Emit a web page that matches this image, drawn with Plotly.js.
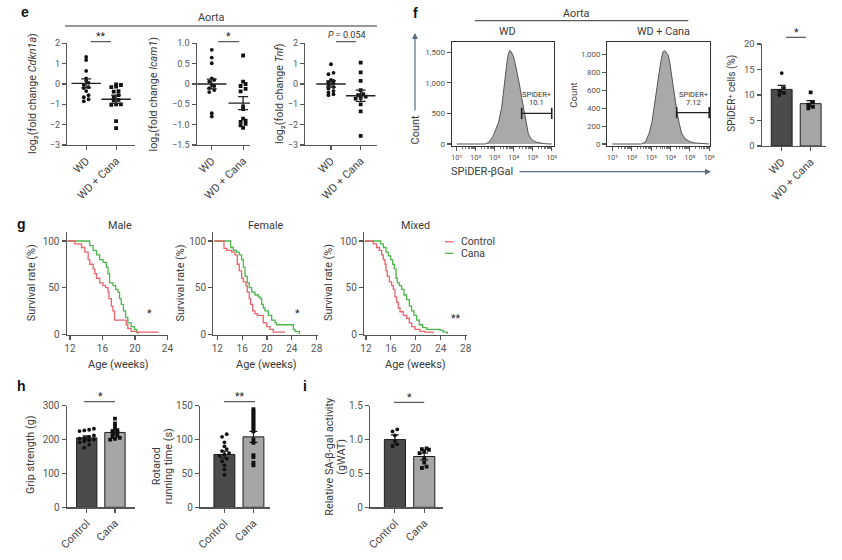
<!DOCTYPE html>
<html><head><meta charset="utf-8">
<script src="https://cdn.plot.ly/plotly-3.0.1.min.js"></script>
<style>html,body{margin:0;padding:0;background:#fff;} #chart{width:842px;height:560px;}</style>
</head><body><div id="chart"></div>
<script>
// ================= DATA =================
// Panel e (log2 fold change, aorta)
const groupsE = ['WD', 'WD + Cana'];
const cdkn1aWD   = [1.33, 1.18, 0.64, 0.28, 0.16, 0.05, -0.05, -0.15, -0.2, -0.35, -0.55, -0.65, -0.75, -0.85];
const cdkn1aCana = [-0.02, -0.05, -0.13, -0.15, -0.35, -0.38, -0.55, -0.65, -0.78, -0.8, -1.0, -1.0, -1.02, -1.83, -2.17];
const cdkn1aMean = [0.03, -0.75];
const cdkn1aSem  = [0.22, 0.2];
const icam1WD    = [0.84, 0.65, 0.51, 0.14, 0.1, 0.06, -0.02, -0.05, -0.1, -0.15, -0.2, -0.72, -0.8];
const icam1Cana  = [0.7, 0.06, 0.0, -0.05, -0.12, -0.18, -0.55, -0.62, -0.85, -0.9, -0.93, -0.98, -1.02, -1.08];
const icam1Mean  = [0.0, -0.47];
const icam1Sem   = [0.12, 0.16];
const tnfWD      = [0.97, 0.55, 0.48, 0.2, 0.15, 0.08, 0.02, -0.05, -0.15, -0.22, -0.35, -0.42, -0.5, -0.55];
const tnfCana    = [1.05, 0.57, 0.15, -0.3, -0.5, -0.55, -0.62, -0.68, -0.72, -1.0, -1.35, -2.55];
const tnfMean    = [0.0, -0.58];
const tnfSem     = [0.15, 0.28];

// Panel f (flow histograms)
const histWDX   = [10, 316, 501, 794, 1122, 1585, 2344, 3467, 4467, 5248, 6310, 7244, 8318, 9550, 11749, 14454, 19953, 26303, 39811, 58884, 79433, 107152, 158489, 239883, 398107, 1000000];
const histWDY   = [0, 0, 30, 120, 230, 350, 600, 1090, 1350, 1470, 1530, 1510, 1480, 1440, 1330, 1200, 980, 760, 435, 165, 90, 55, 30, 15, 5, 0];
const histCanaX = [10, 316, 501, 794, 1122, 1585, 2239, 2884, 3631, 4169, 4786, 5495, 6607, 7762, 9333, 11482, 15849, 20893, 28184, 38019, 56234, 100000, 177828, 316228, 1000000];
const histCanaY = [0, 0, 20, 120, 250, 490, 720, 862, 980, 1030, 1040, 1035, 1010, 990, 900, 750, 560, 379, 230, 119, 60, 26, 12, 6, 0];
const gateWD    = {from: 26303, to: 1000000, level: 500, label: 'SPiDER+', pct: '10.1'};
const gateCana  = {from: 20893, to: 1000000, level: 350, label: 'SPiDER+', pct: '7.12'};
const logTicks  = [10, 100, 1000, 10000, 100000, 1000000];
const logText   = ['10\u00b9', '10\u00b2', '10\u00b3', '10\u2074', '10\u2075', '10\u2076'];
const spiderMean = [11.1, 8.3];
const spiderSem  = [0.8, 0.6];
const spiderWD   = [14.3, 11.4, 10.8, 10.4, 10.0];
const spiderCana = [10.5, 8.6, 8.1, 7.7, 7.4];

// Panel g (survival, %)
const maleCtrlWk  = [11.7, 12.2, 12.6, 13.42, 13.83, 14.24, 14.44, 14.85, 15.05, 15.26, 15.66, 16.07, 16.4, 16.68, 16.8, 17.09, 17.29, 17.49, 18.92, 19.12, 19.53, 20.14, 22.9];
const maleCtrlS   = [100, 100, 97, 93, 88, 80, 75, 70, 65, 60, 55, 52, 50, 45, 38, 30, 25, 15, 10, 6, 3, 2, 2];
const maleCanaWk  = [11.7, 14.03, 14.44, 14.85, 15.26, 15.66, 16.07, 16.48, 16.68, 16.88, 17.29, 17.62, 17.9, 18.1, 18.31, 18.59, 18.84, 19.12, 19.53, 19.94, 20.22, 20.34];
const maleCanaS   = [100, 100, 95, 90, 85, 80, 77, 72, 65, 55, 52, 48, 45, 38, 32, 25, 18, 12, 8, 5, 2, 0];
const femCtrlWk   = [11.5, 12.86, 13.08, 13.51, 14.31, 14.85, 15.22, 15.54, 15.92, 16.19, 16.62, 16.83, 17.15, 17.37, 17.69, 18.07, 18.44, 19.15, 19.4, 19.95, 20.49, 21.0, 22.9];
const femCtrlS    = [100, 100, 92, 90, 88, 85, 75, 68, 60, 56, 52, 45, 38, 32, 25, 22, 20, 20, 12, 8, 5, 2, 2];
const femCanaWk   = [11.5, 13.78, 14.15, 14.58, 15.12, 15.54, 15.92, 16.19, 16.46, 16.83, 17.15, 17.53, 18.07, 18.6, 18.88, 19.15, 19.42, 19.68, 20.22, 20.75, 21.29, 21.56, 23.97, 24.24, 24.51, 25.2];
const femCanaS    = [100, 100, 93, 90, 88, 85, 80, 72, 62, 55, 50, 45, 42, 40, 38, 32, 28, 25, 20, 15, 12, 10, 10, 5, 3, 0];
const mixCtrlWk   = [11.8, 12.91, 13.18, 13.71, 14.14, 14.51, 14.78, 15.05, 15.21, 15.42, 15.75, 16.12, 16.39, 16.65, 16.92, 17.19, 17.46, 17.99, 18.53, 18.96, 19.33, 19.87, 20.67, 21.47, 22.8];
const mixCtrlS    = [100, 100, 97, 93, 90, 85, 80, 75, 68, 62, 56, 52, 48, 40, 34, 28, 24, 20, 17, 12, 8, 5, 3, 2, 1];
const mixCanaWk   = [11.8, 13.98, 14.36, 14.78, 15.21, 15.58, 15.96, 16.28, 16.55, 16.82, 17.03, 17.35, 17.73, 18.1, 18.53, 18.96, 19.33, 19.7, 20.13, 20.56, 21.1, 21.74, 23.88, 24.41, 25.05];
const mixCanaS    = [100, 100, 97, 93, 88, 84, 80, 75, 70, 60, 55, 52, 48, 42, 37, 30, 25, 20, 15, 10, 7, 5, 4, 2, 0];

// Panel h / i (bars)
const groupsHI = ['Control', 'Cana'];
const gripMean = [205, 221];
const gripSem  = [6, 8];
const gripCtrl = [232, 229, 227, 225, 212, 208, 205, 203, 200, 198, 195, 192, 185, 176];
const gripCana = [262, 248, 240, 232, 228, 225, 222, 218, 212, 208, 205, 202, 200];
const rotaMean = [78, 104];
const rotaSem  = [5, 8];
const rotaCtrl = [108, 104, 96, 90, 86, 83, 80, 78, 76, 72, 68, 62, 56, 48];
const rotaCana = [145, 142, 139, 136, 133, 130, 127, 124, 121, 118, 115, 112, 100, 95, 77, 74, 66, 62];
const sagalMean = [1.0, 0.75];
const sagalSem  = [0.07, 0.05];
const sagalCtrl = [1.15, 1.12, 1.06, 0.98, 0.93, 0.9];
const sagalCana = [0.87, 0.86, 0.85, 0.83, 0.8, 0.72, 0.66, 0.6, 0.58];

// ================= STYLE / LAYOUT =================
const W = 842, H = 560;
const F = 'Roboto, "Liberation Sans", sans-serif';
const AX = '#555', TXT = '#3a3a3a';
const RED = '#e8646c', GREEN = '#4db64d', DARK = '#4b4b4b', LIGHT = '#a6a6a6';
const TS = 10.8;   // axis-title size

const layout = {
  width: W, height: H, margin: {l: 0, r: 0, t: 0, b: 0, pad: 0},
  paper_bgcolor: '#fff', plot_bgcolor: 'rgba(0,0,0,0)', showlegend: false,
  font: {family: F, color: TXT}, annotations: [], shapes: []
};
const baseAx = {
  showline: true, linecolor: AX, linewidth: 1.2, ticks: 'outside', ticklen: 4, tickwidth: 1.1,
  tickcolor: AX, showgrid: false, zeroline: false, fixedrange: true,
  tickfont: {family: F, size: 10, color: '#555'}
};
function addAxes(n, x0, x1, y0, y1, xo, yo) {
  const s = n === 1 ? '' : n;
  layout['xaxis' + s] = Object.assign({}, baseAx, {domain: [x0 / W, x1 / W], anchor: 'y' + s}, xo);
  layout['yaxis' + s] = Object.assign({}, baseAx, {domain: [1 - y1 / H, 1 - y0 / H], anchor: 'x' + s}, yo);
}
function ref(n) { const s = n === 1 ? '' : n; return {xaxis: 'x' + s, yaxis: 'y' + s}; }
function txt(x, y, text, o) {
  layout.annotations.push(Object.assign({x: x / W, y: 1 - y / H, xref: 'paper', yref: 'paper', text: text,
    showarrow: false, xanchor: 'center', yanchor: 'middle', font: {family: F, size: TS, color: TXT}}, o || {}));
}
function hline(x0, x1, y, color, w) {
  layout.shapes.push({type: 'line', xref: 'paper', yref: 'paper', x0: x0 / W, x1: x1 / W, y0: 1 - y / H, y1: 1 - y / H,
    line: {color: color || '#333', width: w || 1}});
}
function swarm(vals, center, thr, step) {
  const idx = vals.map((v, i) => i).sort((a, b) => vals[a] - vals[b]);
  const xs = new Array(vals.length);
  let cl = [];
  const flush = () => { const n = cl.length; cl.forEach((k, j) => { xs[k] = center + (j - (n - 1) / 2) * step; }); cl = []; };
  idx.forEach(k => { if (cl.length && vals[k] - vals[cl[0]] > thr) flush(); cl.push(k); });
  flush();
  return xs;
}
const traces = [];
const catFont = {family: F, size: 11, color: '#444'};
const catX = (ticktext, range) => ({range: range, tickvals: [0, 1], ticktext: ticktext, tickangle: -45, tickfont: catFont});
const minus = v => (v < 0 ? '\u2212' + Math.abs(v) : '' + v);
const eTick = {family: F, size: 9, color: '#555'};

// ---------- Panel e ----------
function dotPanel(n, wd, cana, mean, sem, thr, step) {
  traces.push(Object.assign({type: 'scatter', mode: 'markers', x: swarm(wd, 0, thr, step), y: wd,
    marker: {symbol: 'circle', size: 3.8, color: '#111'}}, ref(n)));
  traces.push(Object.assign({type: 'scatter', mode: 'markers', x: swarm(cana, 1, thr, step), y: cana,
    marker: {symbol: 'square', size: 3.8, color: '#111'}}, ref(n)));
  traces.push(Object.assign({type: 'scatter', mode: 'markers', x: [0, 1], y: mean,
    marker: {symbol: 'line-ew', size: 21, color: '#222', line: {width: 1.4, color: '#222'}},
    error_y: {type: 'data', array: sem, width: 5, thickness: 1.3, color: '#222'}}, ref(n)));
}
addAxes(1, 67, 135, 43.3, 145, catX(groupsE, [-0.64, 1.63]),
  {range: [-3, 2], tickvals: [-3, -2, -1, 0, 1, 2], ticktext: [-3, -2, -1, 0, 1, 2].map(minus), tickfont: eTick});
addAxes(2, 196.7, 250, 43.3, 145, catX(groupsE, [-0.48, 1.22]),
  {range: [-1.5, 1.0], tickvals: [-1.5, -1, -0.5, 0, 0.5, 1], ticktext: ['\u22121.5', '\u22121.0', '\u22120.5', '0', '0.5', '1.0'], tickfont: eTick});
addAxes(3, 305, 376.7, 43.3, 145, catX(groupsE, [-0.875, 1.54]),
  {range: [-3, 2], tickvals: [-3, -2, -1, 0, 1, 2], ticktext: [-3, -2, -1, 0, 1, 2].map(minus), tickfont: eTick});
dotPanel(1, cdkn1aWD, cdkn1aCana, cdkn1aMean, cdkn1aSem, 0.12, 0.16);
dotPanel(2, icam1WD, icam1Cana, icam1Mean, icam1Sem, 0.06, 0.16);
dotPanel(3, tnfWD, tnfCana, tnfMean, tnfSem, 0.12, 0.17);

const LETTER = {font: {family: '"Liberation Sans", Arial, sans-serif', size: 14, color: '#111', weight: 'bold'}};
const STAR = {font: {family: F, size: 10.5, color: '#222'}};
txt(25, 12, 'e', LETTER);
txt(211, 17, 'Aorta');
hline(65, 377, 26, '#333', 1);
txt(101, 36, '**', STAR);
hline(90.7, 111, 41.7, '#333', 1);
txt(228.8, 37, '*', STAR);
hline(218.3, 239.3, 41.7, '#333', 1);
txt(346.5, 34.5, '<i>P</i> = 0.054', {font: {family: F, size: 9, color: '#333'}});
hline(336, 356, 41.7, '#333', 1);
const ytE = {textangle: -90, font: {family: F, size: TS, color: TXT}};
txt(33, 94, 'log\u2082(fold change <i>Cdkn1a</i>)', ytE);
txt(153.5, 94, 'log\u2082(fold change <i>Icam1</i>)', ytE);
txt(280, 94, 'log\u2082(fold change <i>Tnf</i>)', ytE);

// ---------- Panel f ----------
const minorVals = [];
[10, 100, 1000, 10000, 100000].forEach(d => { for (let k = 2; k <= 9; k++) minorVals.push(d * k); });
const histX = r => ({type: 'log', range: r, tickvals: logTicks, ticktext: logText, mirror: true, linecolor: '#333',
  tickfont: {family: F, size: 7.5, color: '#555'}, ticklen: 4,
  minor: {tickvals: minorVals, ticks: 'outside', ticklen: 2, tickcolor: AX, tickwidth: 0.8}});
const histTick = {family: F, size: 8, color: '#555'};
addAxes(4, 451.7, 554, 42, 145.7, histX([0.74, 6.12]),
  {range: [-28, 1669], tickvals: [0, 500, 1000, 1500], tickformat: ',', mirror: true, linecolor: '#333', tickfont: histTick});
addAxes(5, 607.3, 710, 42, 145.7, histX([0.74, 6.04]),
  {range: [-19, 1137], tickvals: [0, 200, 400, 600, 800, 1000], tickformat: ',', mirror: true, linecolor: '#333', tickfont: histTick});
function hist(n, xs, ys, gate) {
  traces.push(Object.assign({type: 'scatter', mode: 'lines', x: xs, y: ys, fill: 'tozeroy',
    fillcolor: '#a9a9a9', line: {color: '#555', width: 1}}, ref(n)));
  traces.push(Object.assign({type: 'scatter', mode: 'lines+markers', x: [gate.from, gate.to], y: [gate.level, gate.level],
    line: {color: '#222', width: 1.3}, marker: {symbol: 'line-ns', size: 8, line: {width: 1.6, color: '#222'}}}, ref(n)));
}
hist(4, histWDX, histWDY, gateWD);
hist(5, histCanaX, histCanaY, gateCana);
const gateFont = {font: {family: F, size: 7.5, color: '#333'}};
txt(536.7, 94.5, gateWD.label, gateFont); txt(536.7, 102.7, gateWD.pct, gateFont);
txt(693, 94.5, gateCana.label, gateFont); txt(693, 102.7, gateCana.pct, gateFont);

addAxes(6, 761.7, 826, 44, 146, catX(groupsE, [-0.69, 1.53]),
  {range: [0, 20], tickvals: [0, 5, 10, 15, 20], tickfont: {family: F, size: 9.5, color: '#555'}});
function barPanel(n, mean, sem, a, b, thrA, thrB, step) {
  traces.push(Object.assign({type: 'bar', x: [0, 1], y: mean, width: 0.72,
    marker: {color: [DARK, LIGHT], line: {color: '#1e1e1e', width: 1}},
    error_y: {type: 'data', array: sem, width: 4, thickness: 1.2, color: '#1e1e1e'}}, ref(n)));
  traces.push(Object.assign({type: 'scatter', mode: 'markers', x: swarm(a, 0, thrA, step), y: a,
    marker: {symbol: 'circle', size: 3.8, color: '#111'}}, ref(n)));
  traces.push(Object.assign({type: 'scatter', mode: 'markers', x: swarm(b, 1, thrB, step), y: b,
    marker: {symbol: 'square', size: 3.8, color: '#111'}}, ref(n)));
}
barPanel(6, spiderMean, spiderSem, spiderWD, spiderCana, 0.6, 0.6, 0.16);

txt(415, 13, 'f', LETTER);
txt(576, 13, 'Aorta');
hline(475, 688.3, 20.7, '#333', 1);
txt(507, 31.7, 'WD'); txt(663.3, 31.7, 'WD + Cana');
txt(415, 129.5, 'Count', {textangle: -90, font: {family: F, size: 11, color: TXT}});
txt(572.7, 95, 'Count', {textangle: -90, font: {family: F, size: 9.5, color: TXT}});
txt(482.5, 171.7, 'SPiDER-\u03b2Gal', {font: {family: F, size: 11, color: TXT}});
const ARR = '#5b6b82';
layout.annotations.push({x: 415 / W, y: 1 - 33 / H, xref: 'paper', yref: 'paper', ax: 0, ay: 79, axref: 'pixel', ayref: 'pixel',
  text: '', showarrow: true, arrowhead: 2, arrowsize: 1, arrowwidth: 1.2, arrowcolor: ARR});
layout.annotations.push({x: 711 / W, y: 1 - 171.7 / H, xref: 'paper', yref: 'paper', ax: -193, ay: 0, axref: 'pixel', ayref: 'pixel',
  text: '', showarrow: true, arrowhead: 2, arrowsize: 1, arrowwidth: 1.2, arrowcolor: ARR});
txt(796, 32, '*', STAR);
hline(786, 806, 37.3, '#333', 1);
txt(731.7, 93, 'SPiDER\u207a cells (%)', {textangle: -90, font: {family: F, size: 10, color: TXT}});

// ---------- Panel g ----------
const survY = {range: [-1, 110], tickvals: [0, 50, 100]};
addAxes(7, 66.7, 168.3, 231.7, 335, {range: [11.6, 24.1], tickvals: [12, 16, 20, 24]}, survY);
addAxes(8, 213.3, 317.5, 231.7, 335, {range: [11.36, 28.13], tickvals: [12, 16, 20, 24, 28]}, survY);
addAxes(9, 364, 466.5, 231.7, 335, {range: [11.68, 28.14], tickvals: [12, 16, 20, 24, 28]}, survY);
function surv(n, x, y, c) {
  traces.push(Object.assign({type: 'scatter', mode: 'lines', x: x, y: y, line: {color: c, width: 1.3, shape: 'hv'}}, ref(n)));
}
surv(7, maleCanaWk, maleCanaS, GREEN); surv(7, maleCtrlWk, maleCtrlS, RED);
surv(8, femCanaWk, femCanaS, GREEN); surv(8, femCtrlWk, femCtrlS, RED);
surv(9, mixCanaWk, mixCanaS, GREEN); surv(9, mixCtrlWk, mixCtrlS, RED);

txt(21, 224, 'g', LETTER);
txt(120, 225, 'Male'); txt(266, 225, 'Female'); txt(415, 225, 'Mixed');
const ytG = {textangle: -90, font: {family: F, size: TS, color: TXT}};
txt(31.2, 283, 'Survival rate (%)', ytG); txt(179.5, 283, 'Survival rate (%)', ytG); txt(328, 283, 'Survival rate (%)', ytG);
const AGE = {font: {family: F, size: 11, color: TXT}};
txt(118, 364, 'Age (weeks)', AGE); txt(266, 364, 'Age (weeks)', AGE); txt(415, 364, 'Age (weeks)', AGE);
txt(149, 313, '*', STAR);
txt(297.7, 313, '*', STAR);
txt(456, 318, '**', STAR);
hline(445, 453.3, 241.7, RED, 1.3); hline(445, 453.3, 253.3, GREEN, 1.3);
txt(458.5, 241.7, 'Control', {xanchor: 'left', font: {family: F, size: 10.5, color: TXT}});
txt(458.5, 253.3, 'Cana', {xanchor: 'left', font: {family: F, size: 10.5, color: TXT}});

// ---------- Panel h / i ----------
addAxes(10, 66.7, 135, 405.7, 507.3, catX(groupsHI, [-0.71, 1.71]), {range: [0, 300], tickvals: [0, 100, 200, 300]});
addAxes(11, 200, 270, 405.7, 507.3, catX(groupsHI, [-0.84, 1.57]), {range: [0, 150], tickvals: [0, 50, 100, 150]});
addAxes(12, 370, 443.3, 405.7, 507.3, catX(groupsHI, [-0.85, 1.65]),
  {range: [0, 1.5], tickvals: [0, 0.5, 1, 1.5], ticktext: ['0', '0.5', '1.0', '1.5']});
barPanel(10, gripMean, gripSem, gripCtrl, gripCana, 10, 6, 0.17);
barPanel(11, rotaMean, rotaSem, rotaCtrl, rotaCana, 5, 2, 0.16);
barPanel(12, sagalMean, sagalSem, sagalCtrl, sagalCana, 0.05, 0.05, 0.16);

txt(21, 386, 'h', LETTER);
txt(305, 386, 'i', LETTER);
txt(100, 396.5, '*', STAR);
hline(84, 115, 401.7, '#333', 1);
txt(239.5, 396.5, '**', STAR);
hline(224, 255, 401.7, '#333', 1);
txt(409.3, 397, '*', STAR);
hline(394, 424.3, 402.3, '#333', 1);
const ytH = {textangle: -90, font: {family: F, size: TS, color: TXT}};
txt(30, 455, 'Grip strength (g)', ytH);
txt(156.5, 466.7, 'Rotarod', ytH);
txt(168.5, 466.7, 'running time (s)', ytH);
txt(330, 456.7, 'Relative SA-\u03b2-gal activity', ytH);
txt(342, 456.7, '(gWAT)', ytH);

Plotly.newPlot('chart', traces, layout, {staticPlot: true, displayModeBar: false});
</script>
</body></html>
